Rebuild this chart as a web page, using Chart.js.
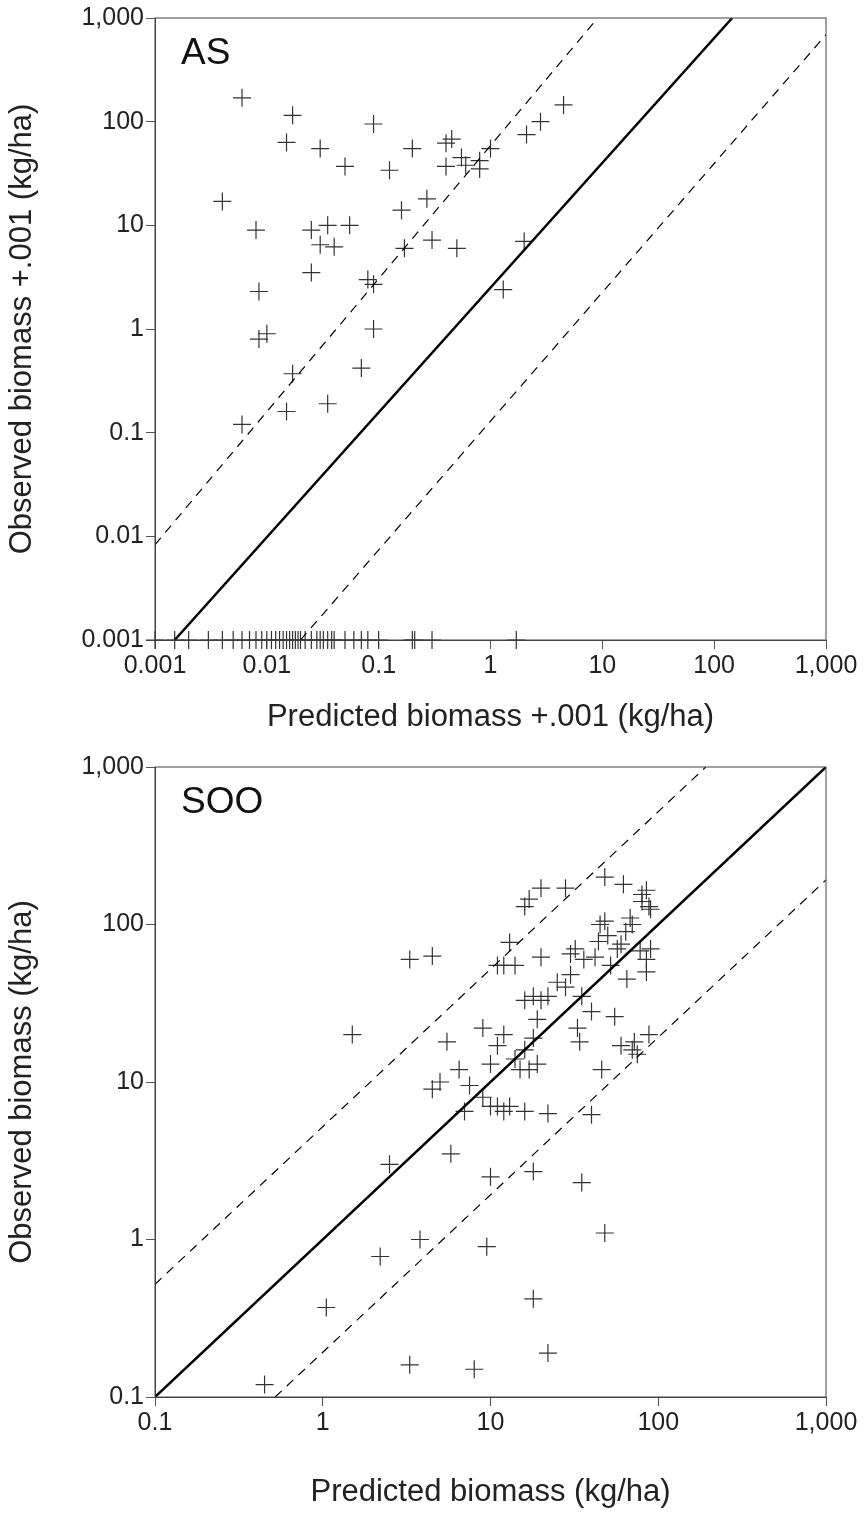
<!DOCTYPE html>
<html>
<head>
<meta charset="utf-8">
<script src="https://cdn.jsdelivr.net/npm/chart.js@4/dist/chart.umd.min.js"></script>
<style>
  body { margin: 0; background: #fff; }
  .box { position: absolute; left: 0; width: 864px; }
</style>
</head>
<body>
<div class="box" style="top:0;height:740px"><canvas id="chartAS"></canvas></div>
<div class="box" style="top:740px;height:791px"><canvas id="chartSOO"></canvas></div>
<script>
// --- dados: painel AS ---
const asPontos = [
  [0.006,170],[0.017,115],[0.015,63],[0.03,55],[0.09,95],[0.05,37],[0.125,34],[0.2,55],
  [0.4,62],[0.45,68],[0.4,37],[0.55,45],[0.6,38],[0.8,35],[0.8,42],[1,55],[2.1,75],[2.8,100],
  [4.5,145],[0.004,17],[0.008,9],[0.025,9],[0.035,10],[0.055,10],[0.03,6.5],[0.04,6.2],
  [0.16,14],[0.17,6],[0.27,18],[0.3,7.2],[0.5,6],[2,7],[0.025,3.5],[0.08,3],[0.09,2.7],
  [0.0085,2.3],[0.0085,0.8],[0.01,0.9],[0.09,1],[0.07,0.42],[0.017,0.37],[0.015,0.16],
  [0.006,0.12],[0.035,0.19],[1.3,2.4]
];
// observados = 0 (desenhados no eixo 0.001)
const asZerosX = [0.001,0.0015,0.002,0.003,0.004,0.005,0.006,0.007,0.008,0.009,0.01,0.011,
  0.012,0.013,0.014,0.015,0.016,0.017,0.018,0.019,0.02,0.022,0.025,0.028,0.03,0.032,0.035,
  0.038,0.04,0.05,0.06,0.07,0.08,0.1,0.2,0.21,0.3,1.7];
const asLinhaSolida = [[0.0015,0.001],[145,1000]];
const asLinhaSup = [[0.001,0.0083],[9.1,1000]];
const asLinhaInf = [[0.02,0.001],[1000,690]];
const asTicks = [0.001,0.01,0.1,1,10,100,1000];

// --- dados: painel SOO ---
const sooPontos = [
  [0.45,0.12],[1.05,0.37],[2.2,0.78],[3.8,1.0],[3.3,0.16],[8,0.15],[9.5,0.9],[18,0.42],[22,0.19],
  [48,1.1],[35,2.3],[18,2.7],[2.5,3],[5.8,3.5],[10,2.5],[1.5,20],[3.3,60],[4.5,63],[4.5,9],
  [5,10],[5.5,18],[6.5,12],[7.5,9.5],[7,6.5],[9,8],[9,22],[10,13],[10,7],[11,17],[11,7],
  [12,6.5],[13,7],[12,20],[14,14],[15,12],[16,16],[16,6.5],[17,12],[18,19],[19,13],[22,6.3],
  [40,6.2],[11,55],[12,55],[13,77],[14,55],[16,130],[17,145],[20,170],[20,62],[16,33],[18,35],
  [19,25],[20,33],[22,35],[25,43],[28,170],[28,40],[30,65],[30,48],[32,70],[33,22],[34,18],
  [35,35],[36,60],[40,28],[42,62],[44,78],[45,100],[46,12],[48,105],[48,200],[50,85],[52,55],
  [55,26],[57,70],[60,75],[62,180],[64,90],[65,45],[68,110],[70,100],[72,18],[75,15],[78,68],
  [80,140],[80,155],[85,165],[85,60],[85,50],[88,130],[88,20],[90,125],[90,70],[60,17],[70,16]
];
const sooLinhaSolida = [[0.1,0.1],[1000,1000]];
const sooLinhaSup = [[0.1,0.52],[192,1000]];
const sooLinhaInf = [[0.52,0.1],[1000,192]];
const sooTicks = [0.1,1,10,100,1000];

// --- utilitários ---
function xy(arr) { return arr.map(p => ({ x: p[0], y: p[1] })); }

function formatar(v) {
  return v >= 1000 ? v.toLocaleString("en-US") : String(v);
}

const FONTE = "'Liberation Sans', Arial, sans-serif";

const moldura = {
  id: "moldura",
  afterDraw(chart, args, opts) {
    const a = chart.chartArea, ctx = chart.ctx;
    ctx.save();
    ctx.strokeStyle = "#444";
    ctx.lineWidth = 1;
    ctx.strokeRect(a.left, a.top, a.right - a.left, a.bottom - a.top);
    ctx.fillStyle = "#111";
    ctx.font = "37px " + FONTE;
    ctx.textBaseline = "alphabetic";
    ctx.fillText(opts.rotulo, a.left + 26, a.top + 46);
    ctx.restore();
  }
};

function eixo(ticks, titulo, larg, alt) {
  return {
    type: "logarithmic",
    min: ticks[0],
    max: ticks[ticks.length - 1],
    afterBuildTicks: s => { s.ticks = ticks.map(v => ({ value: v })); },
    afterFit: s => { if (larg) s.width = larg; if (alt) s.height = alt; },
    grid: { drawOnChartArea: false, tickLength: 9, color: "#555" },
    border: { color: "#444" },
    ticks: {
      color: "#222", font: { family: FONTE, size: 25 }, padding: 2,
      autoSkip: false, maxRotation: 0, callback: v => formatar(v)
    },
    title: { display: true, text: titulo, color: "#222", font: { family: FONTE, size: 31 } }
  };
}

function linha(dados, tracejada, larg) {
  return {
    type: "line", data: xy(dados), borderColor: "#000", borderWidth: larg,
    borderDash: tracejada ? [9, 7] : [], pointRadius: 0, fill: false
  };
}

function criarGrafico(id, rotulo, pontos, solida, sup, inf, ticks, tx, ty, padTopo, altX, padBaixo) {
  const datasets = [
    linha(solida, false, 2.5), linha(sup, true, 1.2), linha(inf, true, 1.2),
    { type: "scatter", data: xy(pontos), pointStyle: "cross", pointRadius: 9,
      borderColor: "#333", borderWidth: 1.2, clip: false }
  ];
  return new Chart(document.getElementById(id), {
    data: { datasets: datasets },
    options: {
      responsive: true, maintainAspectRatio: false, animation: false,
      layout: { padding: { top: padTopo, right: 38, left: 0, bottom: padBaixo } },
      plugins: { legend: { display: false }, tooltip: { enabled: false }, moldura: { rotulo: rotulo } },
      scales: { x: eixo(ticks, tx, 0, altX), y: eixo(ticks, ty, 155, 0) }
    },
    plugins: [moldura]
  });
}

const gAS = criarGrafico("chartAS", "AS", asPontos.concat(asZerosX.map(x => [x, 0.001])),
  asLinhaSolida, asLinhaSup, asLinhaInf, asTicks,
  "Predicted biomass +.001 (kg/ha)", "Observed biomass +.001 (kg/ha)", 18, 100, 0);

const gSOO = criarGrafico("chartSOO", "SOO", sooPontos,
  sooLinhaSolida, sooLinhaSup, sooLinhaInf, sooTicks,
  "Predicted biomass (kg/ha)", "Observed biomass (kg/ha)", 27, 118, 16);
</script>
</body>
</html>
